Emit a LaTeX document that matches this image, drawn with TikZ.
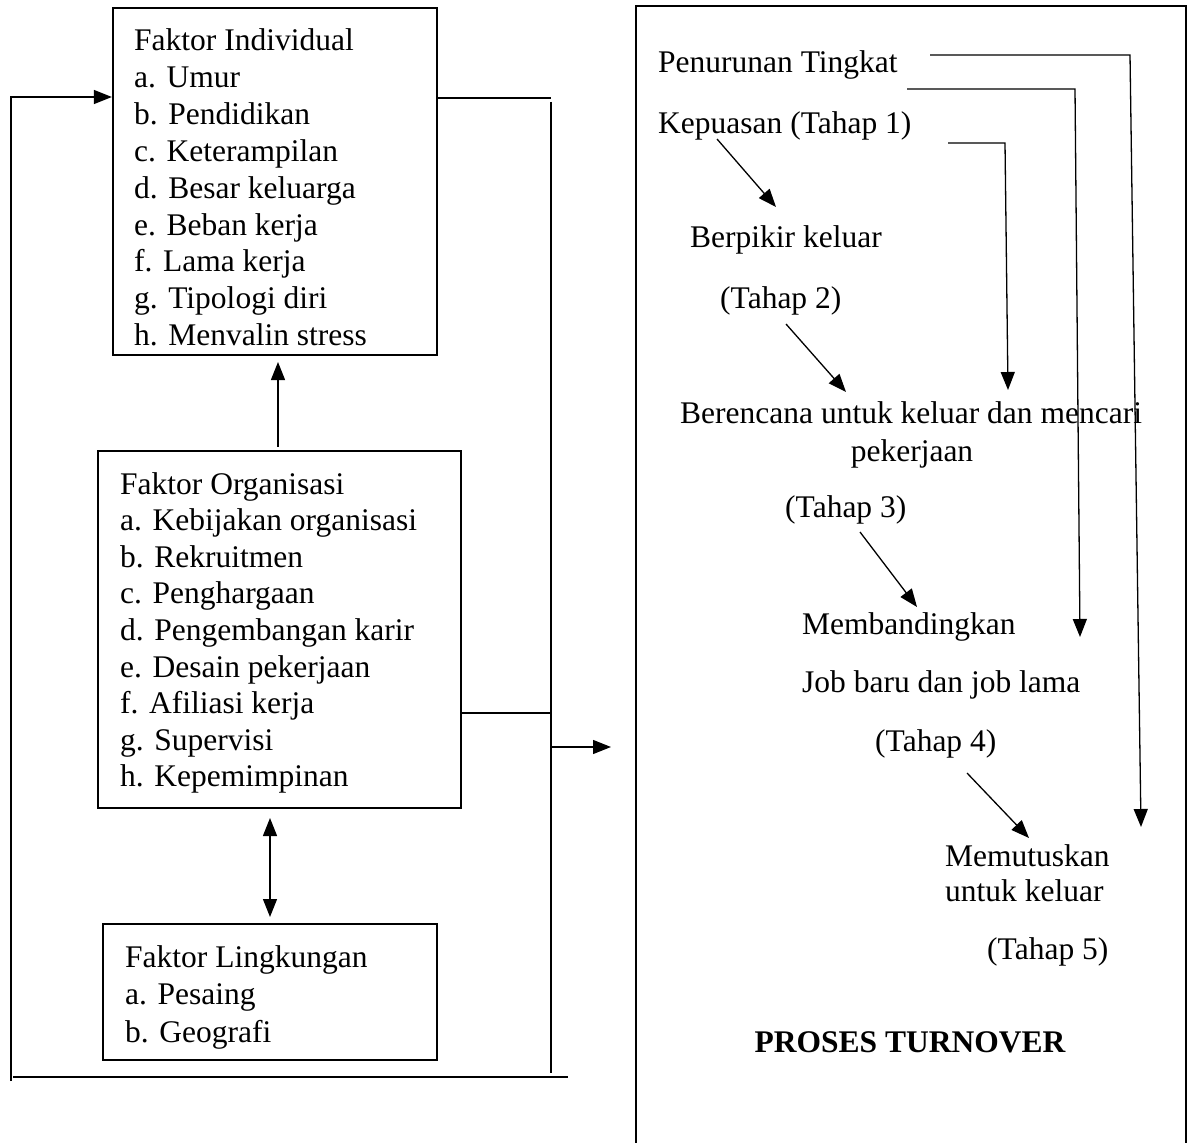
\documentclass[tikz,border=0pt]{standalone}
\usepackage{fontspec}
\setmainfont{Liberation Serif}
\usetikzlibrary{arrows.meta}
\begin{document}
\begin{tikzpicture}[x=1pt,y=-1pt,
  box/.style={draw, line width=2.2pt, inner sep=0pt},
  bigbox/.style={draw, line width=2.8pt, inner sep=0pt},
  txt/.style={inner sep=0pt, anchor=base west, font=\fontsize{31.5}{37}\selectfont},
  ctxt/.style={inner sep=0pt, anchor=base, font=\fontsize{31.5}{37}\selectfont},
  conn/.style={line width=1.3pt},
  arr/.style={line width=1.3pt, -{Triangle[length=18pt,width=14pt]}},
  darr/.style={line width=1.3pt, {Triangle[length=18pt,width=14pt]}-{Triangle[length=18pt,width=14pt]}}
]
\useasboundingbox[fill=white] (0,0) rectangle (1190,1142);

% left boxes
\node[box, minimum width=324pt, minimum height=347pt] (ind) at (275,181.5) {};
\node[box, minimum width=363pt, minimum height=357pt] (org) at (279.5,629.5) {};
\node[box, minimum width=334pt, minimum height=136pt] (env) at (270,992) {};
% right box (bottom edge lies outside the picture)
\node[bigbox, minimum width=550pt, minimum height=1160pt] (proc) at (911,586) {};

% texts of the left boxes
\foreach \t [count=\i] in {Faktor Individual, a. Umur, b. Pendidikan, c. Keterampilan,
  d. Besar keluarga, e. Beban kerja, f. Lama kerja, g. Tipologi diri, h. Menvalin stress}
  \node[txt] (indt\i) at (134,{51+36.8*(\i-1)}) {\t};
\foreach \t [count=\i] in {Faktor Organisasi, a. Kebijakan organisasi, b. Rekruitmen,
  c. Penghargaan, d. Pengembangan karir, e. Desain pekerjaan, f. Afiliasi kerja,
  g. Supervisi, h. Kepemimpinan}
  \node[txt] (orgt\i) at (120,{494+36.6*(\i-1)}) {\t};
\foreach \t [count=\i] in {Faktor Lingkungan, a. Pesaing, b. Geografi}
  \node[txt] (envt\i) at (125,{967+37.5*(\i-1)}) {\t};

% texts of the turnover process
\node[txt] (p1a) at (658,73) {Penurunan Tingkat};
\node[txt] (p1b) at (658,134) {Kepuasan (Tahap 1)};
\node[txt] (p2a) at (690,247) {Berpikir keluar};
\node[txt] (p2b) at (720,308) {(Tahap 2)};
\node[txt] (p3a) at (680,423) {Berencana untuk keluar dan mencari};
\node[ctxt] (p3b) at (912,461) {pekerjaan};
\node[txt] (p3c) at (785,517) {(Tahap 3)};
\node[txt] (p4a) at (802,634) {Membandingkan};
\node[txt] (p4b) at (802,692) {Job baru dan job lama};
\node[txt] (p4c) at (875,751) {(Tahap 4)};
\node[txt] (p5a) at (945,866) {Memutuskan};
\node[txt] (p5b) at (945,901) {untuk keluar};
\node[txt] (p5c) at (987,959) {(Tahap 5)};
\node[ctxt, font=\fontsize{31.5}{37}\selectfont\bfseries] (title) at (910,1052) {PROSES TURNOVER};

% feedback loop on the left
\coordinate (fbtop) at (11,96);
\coordinate (fbbot) at (11,1081);
\coordinate (blL) at (13,1077);
\coordinate (blR) at (568,1077);
\draw[conn] (fbbot) -- (fbtop);
\draw[arr] (11,97) -- (11,97 -| ind.west);
\draw[conn] (blL) -- (blR);

% collector line on the right of the boxes
\coordinate (ctop) at (551,102);
\coordinate (cbot) at (551,1073);
\draw[conn] (ind.east |- 0,98) -- (551,98);
\draw[conn] (ctop) -- (cbot);
\draw[conn] (org.east |- 0,713) -- (551,713);
\coordinate (outS) at (552,747);
\draw[arr] (outS) -- (outS -| 611,0);

% arrows between boxes
\coordinate (ua) at (278,0);
\draw[arr] (org.north -| ua) ++(0,-3) -- (278,362);
\coordinate (da) at (270,0);
\draw[darr] (270,818) -- (270,917);

% stage arrows
\coordinate (s1a) at (717,139);
\coordinate (s1b) at (776,207);
\draw[arr] (s1a) -- (s1b);
\coordinate (s2a) at (786,324);
\coordinate (s2b) at (846,392);
\draw[arr] (s2a) -- (s2b);
\coordinate (s3a) at (860,532);
\coordinate (s3b) at (917,607);
\draw[arr] (s3a) -- (s3b);
\coordinate (s4a) at (967,773);
\coordinate (s4b) at (1029,838);
\draw[arr] (s4a) -- (s4b);

% long bypass arrows
\coordinate (l1a) at (930,55);
\coordinate (l1b) at (1130,55);
\coordinate (l1c) at (1141,827);
\draw[arr] (l1a) -- (l1b) -- (l1c);
\coordinate (l2a) at (907,89);
\coordinate (l2b) at (1075,89);
\coordinate (l2c) at (1080,637);
\draw[arr] (l2a) -- (l2b) -- (l2c);
\coordinate (l3a) at (948,143);
\coordinate (l3b) at (1005,143);
\coordinate (l3c) at (1008,390);
\draw[arr] (l3a) -- (l3b) -- (l3c);
\end{tikzpicture}
\end{document}
